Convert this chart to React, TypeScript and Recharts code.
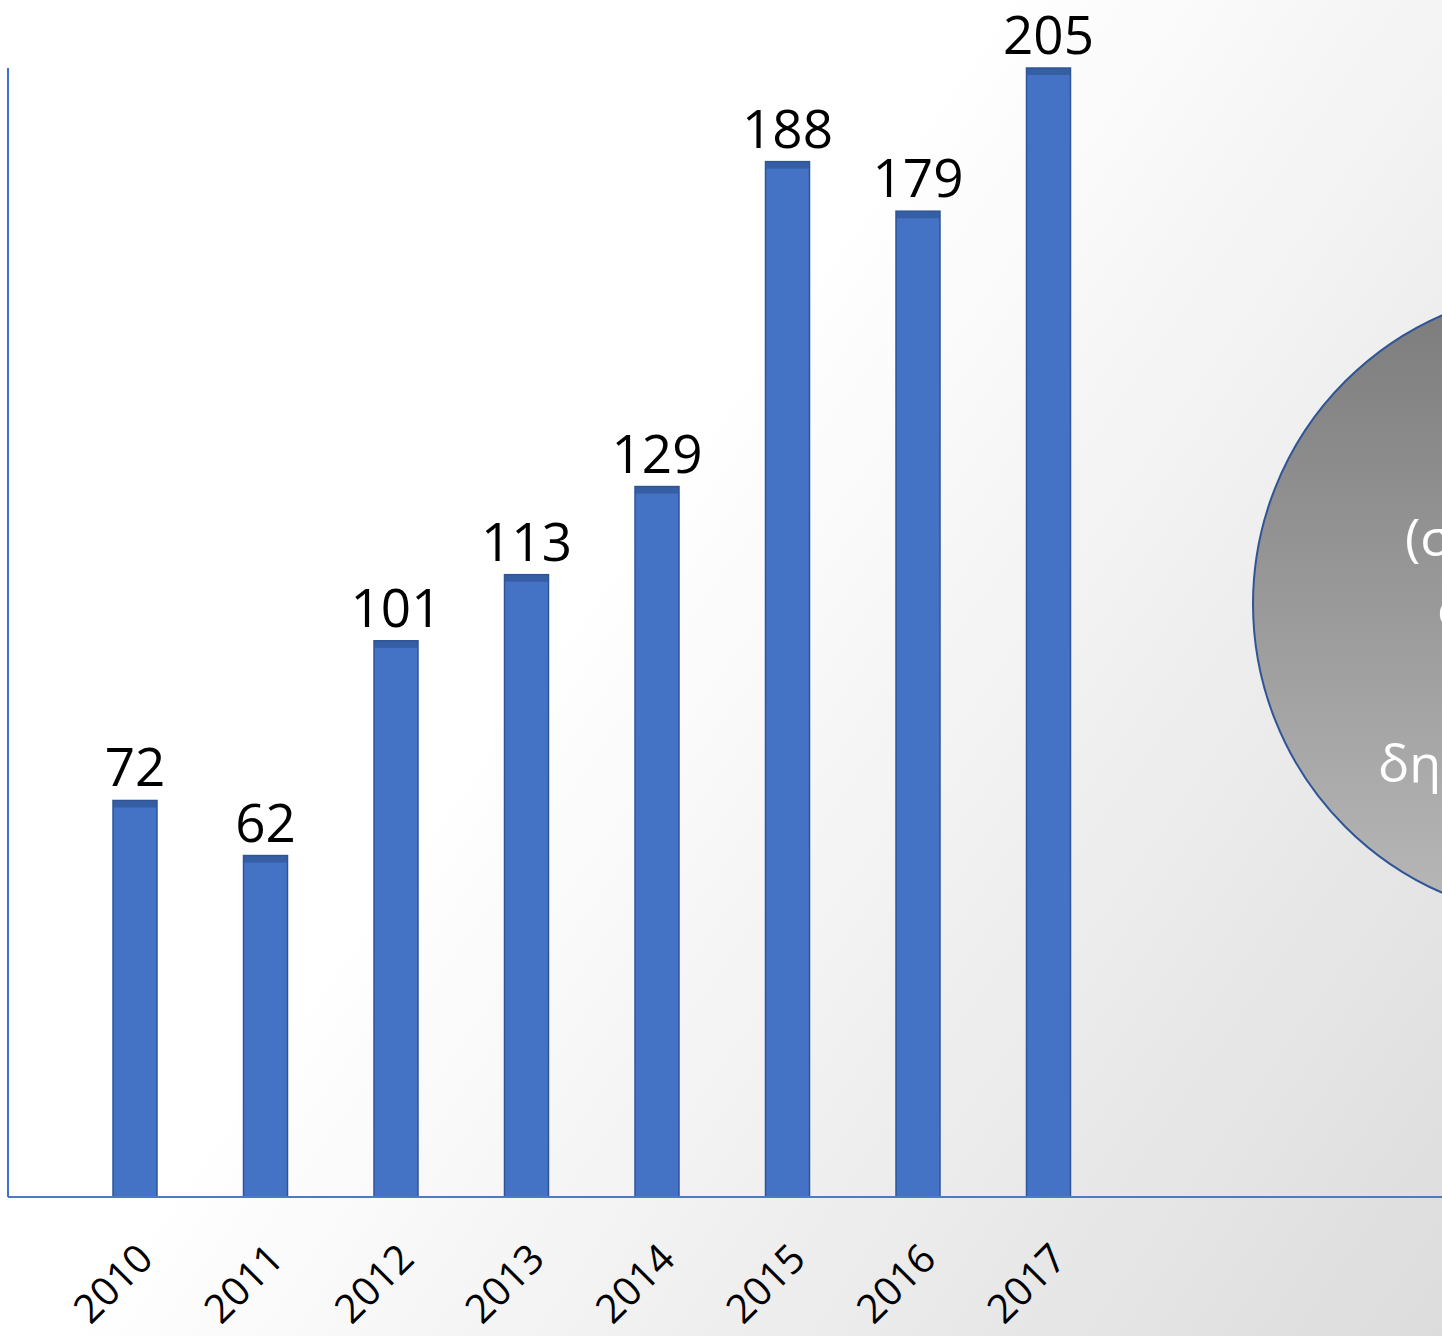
import React from "react";
import { BarChart, Bar, XAxis, YAxis, LabelList } from "recharts";

// Values.
const years = ["2010", "2011", "2012", "2013", "2014", "2015", "2016", "2017"];
const counts = [72, 62, 101, 113, 129, 188, 179, 205];
// Decorative bubble on the right edge (text is cut by the slide border).
const bubbleLines = ["(συγκεντρωτικά", "στοιχεία", "δημοσιεύσεις"];

const data = years.map((year, i) => ({ year, count: counts[i] }));

const W = 1442;
const H = 1336;
const BAR_FILL = "#4472c4";
const BAR_EDGE = "#2f5597";
const AXIS = "#4f78c6";
const FONT = "'Open Sans', 'Liberation Sans', sans-serif";

function BarShape(props: any) {
  const { x, y, width, height } = props;
  return (
    <g>
      <rect x={x} y={y} width={width} height={height} fill={BAR_FILL} stroke={BAR_EDGE} strokeWidth={1.5} />
      <rect x={x} y={y} width={width} height={Math.min(7, height)} fill={BAR_EDGE} opacity={0.7} />
    </g>
  );
}

function YearTick(props: any) {
  const { x, y, payload } = props;
  return (
    <g transform={`translate(${x + 20},${y + 64}) rotate(-45)`}>
      <text x={0} y={0} textAnchor="end" fill="#000" fontSize={40} fontFamily={FONT}>
        {payload.value}
      </text>
    </g>
  );
}

function Bubble() {
  const starts = [
    { x: 1405, y: 556 },
    { x: 1437, y: 627 },
    { x: 1378, y: 782 },
  ];
  return (
    <svg width={W} height={H} style={{ position: "absolute", left: 0, top: 0 }}>
      <defs>
        <linearGradient id="bubbleFill" x1="0" y1="0" x2="0" y2="1">
          <stop offset="0%" stopColor="#7b7b7b" />
          <stop offset="100%" stopColor="#b8b8b8" />
        </linearGradient>
      </defs>
      <circle cx={1568} cy={604} r={315} fill="url(#bubbleFill)" stroke={BAR_EDGE} strokeWidth={2} />
      {bubbleLines.map((t, i) => (
        <text key={t} x={starts[i].x} y={starts[i].y} fill="#fff" fontSize={52} fontFamily={FONT}>
          {t}
        </text>
      ))}
    </svg>
  );
}

export default function App() {
  return (
    <div
      style={{
        position: "fixed",
        left: 0,
        top: 0,
        width: W,
        height: H,
        overflow: "hidden",
        background: "linear-gradient(125deg, #ffffff 0%, #ffffff 42%, #dcdcdc 100%)",
      }}
    >
      <Bubble />
      <div style={{ position: "absolute", left: 0, top: 0 }}>
        <BarChart width={W} height={H} data={data} margin={{ top: 68, right: 0, bottom: 0, left: 6 }}>
          <XAxis
            dataKey="year"
            height={139}
            padding={{ left: 62, right: 328 }}
            axisLine={{ stroke: AXIS, strokeWidth: 2 }}
            tickLine={false}
            tickSize={0}
            tickMargin={0}
            interval={0}
            tick={<YearTick />}
          />
          <YAxis
            width={2}
            domain={[0, 205]}
            tick={false}
            tickLine={false}
            axisLine={{ stroke: "#3f6fd0", strokeWidth: 2 }}
          />
          <Bar dataKey="count" barSize={44} shape={<BarShape />} isAnimationActive={false}>
            <LabelList
              dataKey="count"
              position="top"
              offset={14}
              fill="#000"
              fontSize={53}
              fontFamily={FONT}
            />
          </Bar>
        </BarChart>
      </div>
    </div>
  );
}
